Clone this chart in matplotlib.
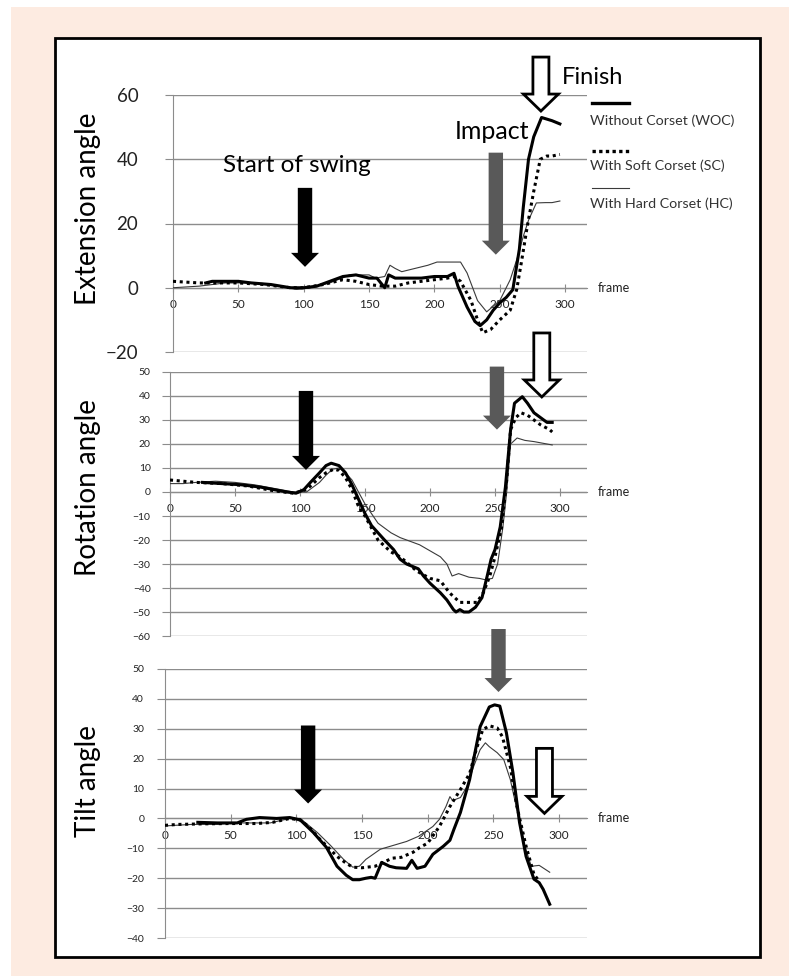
import numpy as np
import matplotlib.pyplot as plt
from matplotlib.patches import Rectangle, Polygon
from matplotlib.lines import Line2D

plt.rcParams['font.family'] = ['Lato', 'DejaVu Sans']

W, H = 789, 976

# ---- data (frame, angle) ----
ext_woc_f = [25, 30, 50, 60, 75, 90, 100, 110, 120, 130, 140, 150, 156, 160, 162, 165, 170, 180, 190, 200,
             210, 215, 218, 225, 231, 235, 240, 245, 250, 255, 260, 265, 268, 272, 276, 279, 282, 286, 290, 296]
ext_woc_v = [1.5, 2, 2, 1.5, 1, 0, 0, 0.5, 2, 3.5, 4, 3, 3, 1, 0, 4, 3, 3, 3, 3.5,
             3.5, 4.5, 0.5, -6, -10.5, -11.8, -10, -7, -4.7, -3, -0.6, 12, 25, 40, 47, 50, 53, 52.5, 52, 51]
ext_sc_f = [0, 20, 50, 70, 90, 100, 115, 130, 140, 150, 160, 170, 180, 190, 200, 210, 215, 220, 228, 233,
            237, 243, 250, 258, 263, 267, 271, 276, 281, 286, 290, 296]
ext_sc_v = [2, 1.5, 1.5, 1, 0, 0, 1, 2.5, 2, 1, 0.5, 0.5, 1.5, 2, 2.5, 3, 3.5, 2, -4, -10,
            -14, -13, -10, -7, -0.5, 9, 19, 30, 40, 41, 41, 41.5]
ext_hc_f = [0, 20, 40, 60, 80, 95, 105, 120, 135, 150, 155, 162, 166, 170, 175, 185, 195, 202, 210, 220,
            225, 233, 240, 250, 258, 264, 268, 272, 278, 285, 290, 296]
ext_hc_v = [0, 0.5, 1.5, 1.5, 0.5, -0.5, 0, 1.5, 4, 4, 3, 3.5, 7, 6, 5, 6, 7, 8, 8, 8,
            4.6, -4, -7.5, -4, 2.5, 10, 16, 21, 26.4, 26.5, 26.5, 27]

rot_woc_f = [25, 40, 55, 70, 80, 90, 97, 103, 108, 115, 120, 124, 130, 135, 140, 145, 150, 155, 160, 165,
             172, 177, 182, 191, 195, 200, 208, 213, 218, 220, 223, 226, 230, 235, 240, 244, 247, 250, 254, 258,
             262, 265, 271, 275, 280, 285, 290, 294]
rot_woc_v = [4, 3.5, 3, 2, 1, 0, -0.5, 1, 4, 8, 11, 12, 11, 8, 3, -3, -9, -14, -17, -20,
             -24, -28, -30, -32, -35, -38, -42, -45, -49, -50, -49, -50, -50, -48, -44, -35, -28, -24, -14.6, 2,
             26, 37, 39.7, 37, 33, 31, 29, 29]
rot_sc_f = [0, 10, 20, 40, 60, 80, 95, 105, 115, 120, 126, 130, 135, 140, 145, 150, 160, 170, 177, 190,
            200, 208, 215, 223, 230, 236, 241, 246, 250, 255, 259, 262, 266, 270, 275, 280, 285, 292, 294]
rot_sc_v = [5, 4.5, 4, 3.5, 2.5, 0.5, -0.5, 1, 6, 8, 9.5, 9, 6, 1, -6, -10, -20, -25, -27, -33,
            -36, -37, -42, -46, -46, -46, -42, -35, -27, -15, 5, 26, 31, 33, 32, 30, 28, 26, 25]
rot_hc_f = [0, 10, 20, 35, 50, 65, 80, 95, 105, 115, 120, 125, 130, 135, 140, 145, 150, 155, 160, 170,
            177, 192, 208, 213, 217, 222, 230, 238, 242, 248, 252, 256, 259, 262, 267, 273, 280, 290, 294]
rot_hc_v = [3.5, 3.5, 4, 4.5, 4, 3, 1.5, 0, 0, 4, 7, 9.5, 10, 8, 5, 0, -5, -9, -13, -17,
            -19, -22, -27, -30, -35, -34, -35.5, -36, -36.5, -36, -30, -15, 0, 20, 22.5, 21.5, 21, 20, 19.6]

tilt_woc_f = [25, 40, 55, 62, 72, 85, 95, 103, 113, 123, 131, 138, 143, 148, 153, 157, 160, 165, 171, 176,
              184, 188, 192, 198, 204, 212, 217, 220, 225, 232, 240, 247, 251, 255, 260, 265, 270, 275, 281, 285,
              288, 293]
tilt_woc_v = [-1.3, -1.5, -1.5, -0.3, 0.3, 0, 0.3, -0.5, -4.7, -9.7, -16, -19, -20.5, -20.5, -20, -19.7, -20, -14.7, -16, -16.5,
              -16.7, -14, -16.7, -16, -12, -9.3, -7.3, -3.7, 2, 13, 30.7, 37.3, 38, 37.6, 28.7, 15.3, -1.3, -12.7, -20.3, -21.5,
              -23.7, -28.7]
tilt_sc_f = [0, 10, 30, 50, 70, 82, 95, 103, 110, 118, 125, 131, 138, 143, 150, 160, 173, 180, 189, 194,
             200, 209, 217, 225, 232, 237, 242, 247, 253, 257, 263, 268, 275, 281, 285]
tilt_sc_v = [-2.3, -2, -1.8, -1.7, -1.7, -1.3, 0, -0.5, -3, -7, -10, -12.7, -15, -16.3, -16.5, -16, -13.3, -13, -11.3, -9.7,
             -8.3, -2.7, 4, 9.7, 15, 23, 29.7, 31, 30.3, 27.3, 17.3, 4, -9.3, -18.7, -21]
tilt_hc_f = [0, 20, 40, 50, 80, 95, 103, 116, 126, 136, 143, 148, 153, 164, 174, 184, 193, 204, 209, 214,
             217, 219, 225, 230, 235, 240, 244, 247, 253, 258, 263, 268, 274, 279, 285, 293]
tilt_hc_v = [-2.5, -2, -2, -1.5, -1.5, 0, 0, -4.7, -9, -13.7, -16.3, -16, -13.7, -10.3, -9, -7.7, -6, -2.7, -0.3, 4,
             7.3, 6, 7, 10.7, 17.3, 23, 25.3, 24, 22, 19.7, 13, 3, -9.3, -16, -15.7, -18]

# arrows: (frame, tip angle, length px, kind)
ext_arrows = [(101, 6.5, 79, 'black'), (247, 10.3, 102, 'gray'), (281.5, 55, 54, 'hollow')]
rot_arrows = [(104.6, 9.2, 79, 'black'), (251.5, 26, 63, 'gray'), (286, 39.6, 64, 'hollow')]
tilt_arrows = [(109, 5, 78, 'black'), (254, 42.3, 63, 'gray'), (289, 1.7, 65, 'hollow')]

legend_labels = ['Without Corset (WOC)', 'With Soft Corset (SC)', 'With Hard Corset (HC)']


def fr(x, y):
    # pixel (from top-left) -> figure fraction
    return x / W, 1 - y / H


def add_axes(left, right, top, bottom):
    return fig.add_axes([left / W, 1 - bottom / H, (right - left) / W, (bottom - top) / H])


fig = plt.figure(figsize=(W / 100, H / 100), dpi=100)
fig.patches.append(Rectangle(fr(11, 976), (W - 11) / W, (976 - 7) / H, transform=fig.transFigure,
                             facecolor='#fdebe1', edgecolor='none', zorder=-2))
fig.patches.append(Rectangle(fr(55, 957), (760 - 55) / W, (957 - 38) / H, transform=fig.transFigure,
                             facecolor='white', edgecolor='black', lw=2, zorder=-1))

ax1 = add_axes(173, 587, 95, 352)
ax2 = add_axes(170, 587, 372, 636)
ax3 = add_axes(165, 587, 669, 938)

panels = [
    (ax1, (ext_woc_f, ext_woc_v), (ext_sc_f, ext_sc_v), (ext_hc_f, ext_hc_v), (-20, 60), 20, 13.5, 19,
     'Extension angle', ext_arrows),
    (ax2, (rot_woc_f, rot_woc_v), (rot_sc_f, rot_sc_v), (rot_hc_f, rot_hc_v), (-60, 50), 10, 7.5, 8,
     'Rotation angle', rot_arrows),
    (ax3, (tilt_woc_f, tilt_woc_v), (tilt_sc_f, tilt_sc_v), (tilt_hc_f, tilt_hc_v), (-40, 50), 10, 7.5, 9,
     'Tilt angle', tilt_arrows),
]
ylabel_y = [209, 488, 781]

for i, (ax, woc, sc, hc, ylim, step, yfs, ypad, ylab, arrows) in enumerate(panels):
    ax.set_facecolor('none')
    ax.plot(hc[0], hc[1], color='#3a3a3a', lw=0.8, zorder=3)
    ax.plot(sc[0], sc[1], color='black', lw=2.2, linestyle=(0, (1, 1.2)), zorder=4)
    ax.plot(woc[0], woc[1], color='black', lw=2.2, zorder=5)
    ax.set_ylim(*ylim)
    pos = ax.get_position()
    ax.set_xlim(0, pos.width * W / [1.307, 1.3, 1.313][i])
    ax.set_yticks(np.arange(ylim[0], ylim[1] + 1, step))
    ax.set_xticks(np.arange(0, 301, 50))
    ax.grid(axis='y', color='#8c8c8c', lw=1)
    ax.set_axisbelow(True)
    for s in ['top', 'right']:
        ax.spines[s].set_visible(False)
    ax.spines['left'].set_color('#8c8c8c')
    ax.spines['bottom'].set_position(('data', 0))
    ax.spines['bottom'].set_color('#8c8c8c')
    ax.tick_params(axis='y', length=6, color='#8c8c8c', labelsize=yfs, pad=ypad, labelcolor='#222222')
    ax.tick_params(axis='x', direction='inout', length=6, color='#8c8c8c', labelsize=8.5, pad=5,
                   labelcolor='#222222')
    ax.text(1.025, 0, 'frame', transform=ax.get_yaxis_transform(), fontsize=9, color='#222222',
            va='center', ha='left')
    fig.text(88 / W, 1 - ylabel_y[i] / H, ylab, rotation=90, fontsize=20, ha='center', va='center')

    # event arrows
    fig.canvas.draw()
    for fx, fy, length, kind in arrows:
        tx, ty = ax.transData.transform((fx, fy))
        if kind == 'hollow':
            sw, hw, hl = 8, 17.5, 17
            fc, ec, lw = 'white', 'black', 2
        else:
            sw, hw, hl = 7.2, 14, 14
            fc = 'black' if kind == 'black' else '#595959'
            ec, lw = 'none', 0
        verts = [(tx, ty), (tx - hw, ty + hl), (tx - sw, ty + hl), (tx - sw, ty + length),
                 (tx + sw, ty + length), (tx + sw, ty + hl), (tx + hw, ty + hl)]
        fig.patches.append(Polygon(verts, closed=True, transform=None, facecolor=fc, edgecolor=ec,
                                   lw=lw, joinstyle='miter', zorder=10))

# phase labels
ax1.text(95, 38, 'Start of swing', fontsize=17.5, ha='center', va='center')
ax1.text(244, 48.5, 'Impact', fontsize=18, ha='center', va='center')
ax1.text(297.5, 65.3, 'Finish', fontsize=17, ha='left', va='center')

# legend
leg_styles = [dict(color='black', lw=2.4), dict(color='black', lw=2.4, linestyle=(0, (1, 1))),
              dict(color='#3a3a3a', lw=0.8)]
leg_line_y = [103, 151, 188]
leg_text_y = [121, 166, 204]
for lab, st, ly, ty in zip(legend_labels, leg_styles, leg_line_y, leg_text_y):
    x0, y0 = fr(592, ly)
    x1, _ = fr(629, ly)
    fig.add_artist(Line2D([x0, x1], [y0, y0], transform=fig.transFigure, **st))
    fig.text(590 / W, 1 - ty / H, lab, fontsize=10.3, color='#333333', ha='left', va='center')

fig.savefig('out.png', dpi=100)
